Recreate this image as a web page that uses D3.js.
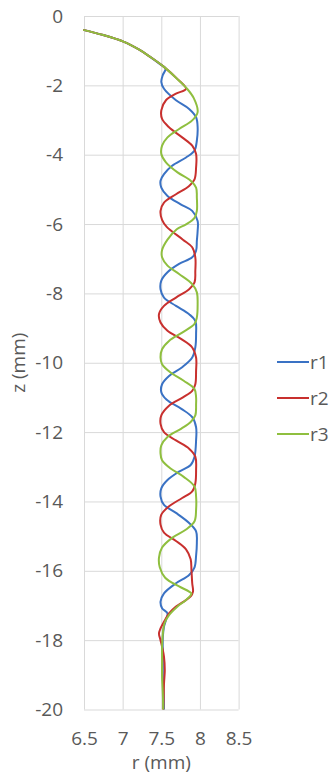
<!DOCTYPE html>
<html>
<head>
<meta charset="utf-8">
<script src="https://cdn.jsdelivr.net/npm/d3@7"></script>
<style>
  body { margin: 0; background: #fff; }
  svg text { font-family: "Open Sans", "Noto Sans", sans-serif; fill: #595959; }
  .grid line { stroke: #d9d9d9; stroke-width: 1; }
  .grid path { display: none; }
</style>
</head>
<body>
<svg id="chart" width="333" height="782"></svg>
<script>
// series names and colours
var seriesNames = ['r1', 'r2', 'r3'];
var seriesColors = ['#3a72c4', '#c8302e', '#8fbf3f'];

// tick values
var xTicks = [6.5, 7, 7.5, 8, 8.5];
var yTicks = [0, -2, -4, -6, -8, -10, -12, -14, -16, -18, -20];

// [r, z] points
var r1 = [[6.49,-0.40],[6.75,-0.55],[7.01,-0.74],[7.22,-0.98],[7.35,-1.17],[7.48,-1.38],[7.555,-1.52],
  [7.52,-1.70],[7.50,-1.90],[7.535,-2.10],[7.69,-2.43],[7.86,-2.68],[7.95,-2.92],[7.97,-3.21],[7.96,-3.59],
  [7.93,-3.88],[7.82,-4.08],[7.64,-4.32],[7.535,-4.56],[7.49,-4.75],[7.50,-4.95],[7.58,-5.19],[7.75,-5.43],
  [7.90,-5.62],[7.97,-5.91],[7.97,-6.20],[7.96,-6.48],[7.95,-6.77],[7.90,-6.96],[7.73,-7.15],[7.58,-7.39],
  [7.50,-7.63],[7.49,-7.88],[7.535,-8.12],[7.69,-8.36],[7.86,-8.60],[7.94,-8.79],[7.95,-9.17],[7.94,-9.56],
  [7.90,-9.85],[7.77,-10.13],[7.60,-10.38],[7.51,-10.62],[7.50,-10.85],[7.57,-11.07],[7.76,-11.33],
  [7.90,-11.57],[7.95,-11.86],[7.95,-12.24],[7.93,-12.71],[7.88,-12.95],[7.73,-13.14],[7.58,-13.38],
  [7.50,-13.62],[7.49,-13.86],[7.535,-14.10],[7.69,-14.33],[7.86,-14.62],[7.95,-14.86],[7.96,-15.19],
  [7.95,-15.57],[7.93,-15.90],[7.86,-16.12],[7.69,-16.36],[7.535,-16.65],[7.49,-16.89],[7.51,-17.08],
  [7.58,-17.23],[7.56,-17.42],[7.535,-17.61],[7.52,-17.90],[7.52,-18.58],[7.52,-19.06],[7.53,-19.55],
  [7.535,-20.0]];

var r2 = [[6.49,-0.40],[6.75,-0.55],[7.01,-0.74],[7.22,-0.98],[7.35,-1.17],[7.53,-1.46],[7.70,-1.80],
  [7.82,-2.10],[7.69,-2.24],[7.56,-2.43],[7.50,-2.72],[7.51,-2.97],[7.60,-3.21],[7.77,-3.50],[7.90,-3.74],
  [7.95,-3.98],[7.95,-4.37],[7.93,-4.71],[7.86,-4.90],[7.69,-5.14],[7.535,-5.38],[7.49,-5.62],[7.51,-5.88],
  [7.57,-6.08],[7.78,-6.45],[7.90,-6.67],[7.94,-6.96],[7.94,-7.35],[7.93,-7.68],[7.86,-7.88],[7.69,-8.12],
  [7.535,-8.36],[7.47,-8.60],[7.49,-8.84],[7.58,-9.08],[7.76,-9.32],[7.90,-9.56],[7.95,-9.85],[7.95,-10.23],
  [7.94,-10.62],[7.90,-10.81],[7.78,-11.00],[7.60,-11.24],[7.50,-11.52],[7.49,-11.76],[7.535,-12.00],
  [7.69,-12.24],[7.86,-12.48],[7.94,-12.71],[7.95,-13.10],[7.94,-13.48],[7.90,-13.71],[7.77,-13.90],
  [7.60,-14.14],[7.50,-14.38],[7.49,-14.67],[7.535,-14.90],[7.69,-15.14],[7.82,-15.38],[7.88,-15.67],
  [7.89,-15.97],[7.90,-16.36],[7.91,-16.60],[7.88,-16.74],[7.79,-16.89],[7.69,-17.03],[7.60,-17.23],
  [7.535,-17.47],[7.49,-17.66],[7.47,-17.81],[7.49,-18.00],[7.51,-18.19],[7.535,-18.48],[7.545,-18.87],
  [7.535,-19.25],[7.53,-19.74],[7.525,-20.0]];

var r3 = [[6.49,-0.40],[6.75,-0.55],[7.01,-0.74],[7.22,-0.98],[7.35,-1.17],[7.53,-1.46],[7.70,-1.80],
  [7.83,-2.09],[7.92,-2.37],[7.97,-2.77],[7.90,-3.01],[7.73,-3.26],[7.58,-3.50],[7.51,-3.74],[7.50,-3.98],
  [7.56,-4.22],[7.71,-4.51],[7.88,-4.75],[7.95,-4.95],[7.96,-5.24],[7.96,-5.62],[7.93,-5.82],[7.82,-6.01],
  [7.70,-6.15],[7.58,-6.45],[7.51,-6.75],[7.51,-6.96],[7.58,-7.20],[7.73,-7.44],[7.90,-7.73],[7.96,-7.97],
  [7.97,-8.31],[7.96,-8.69],[7.93,-8.88],[7.77,-9.13],[7.60,-9.37],[7.51,-9.61],[7.49,-9.85],[7.51,-10.04],
  [7.62,-10.28],[7.79,-10.52],[7.93,-10.76],[7.95,-11.00],[7.95,-11.19],[7.94,-11.52],[7.88,-11.71],
  [7.76,-11.90],[7.58,-12.14],[7.50,-12.38],[7.49,-12.62],[7.51,-12.81],[7.62,-13.05],[7.79,-13.29],
  [7.93,-13.57],[7.95,-13.86],[7.95,-14.24],[7.93,-14.57],[7.82,-14.81],[7.64,-15.05],[7.51,-15.33],
  [7.47,-15.62],[7.48,-15.90],[7.55,-16.20],[7.73,-16.45],[7.86,-16.60],[7.89,-16.66],[7.82,-16.84],
  [7.71,-17.03],[7.60,-17.28],[7.54,-17.52],[7.52,-17.81],[7.51,-18.19],[7.51,-18.58],[7.51,-19.06],
  [7.52,-19.55],[7.525,-20.0]];

var seriesData = [r1, r2, r3];

var svg = d3.select('#chart');
var plot = { left: 84, right: 238.6, top: 16, bottom: 709.5 };
var fontSize = '19px';

var x = d3.scaleLinear().domain([6.5, 8.5]).range([plot.left, plot.right]);
var y = d3.scaleLinear().domain([0, -20]).range([plot.top, plot.bottom]);

// x gridlines + labels
svg.append('g')
    .attr('class', 'grid')
    .attr('transform', 'translate(0,' + plot.bottom + ')')
    .call(d3.axisBottom(x).tickValues(xTicks)
        .tickSize(-(plot.bottom - plot.top)).tickPadding(22)
        .tickFormat(function (d) { return String(d); }))
    .selectAll('text')
    .style('font-size', fontSize);

// y gridlines + labels
svg.append('g')
    .attr('class', 'grid')
    .attr('transform', 'translate(' + plot.left + ',0)')
    .call(d3.axisLeft(y).tickValues(yTicks)
        .tickSize(-(plot.right - plot.left)).tickPadding(21)
        .tickFormat(function (d) { return String(d); }))
    .selectAll('text')
    .style('font-size', fontSize);

svg.selectAll('.grid text').attr('fill', '#595959');

// axis titles
svg.append('text')
    .attr('x', (plot.left + plot.right) / 2)
    .attr('y', 769)
    .attr('text-anchor', 'middle')
    .style('font-size', fontSize)
    .text('r (mm)');

svg.append('text')
    .attr('transform', 'translate(25,' + ((plot.top + plot.bottom) / 2) + ') rotate(-90)')
    .attr('text-anchor', 'middle')
    .style('font-size', fontSize)
    .text('z (mm)');

// curves
var line = d3.line()
    .x(function (d) { return x(d[0]); })
    .y(function (d) { return y(d[1]); })
    .curve(d3.curveCatmullRom.alpha(0.5));

svg.selectAll('path.series')
    .data(seriesData)
    .enter()
    .append('path')
    .attr('class', 'series')
    .attr('d', line)
    .attr('fill', 'none')
    .attr('stroke', function (d, i) { return seriesColors[i]; })
    .attr('stroke-width', 2)
    .attr('stroke-linejoin', 'round');

// legend
var legend = svg.selectAll('.legend')
    .data(seriesNames)
    .enter()
    .append('g')
    .attr('class', 'legend')
    .attr('transform', function (d, i) { return 'translate(277,' + (362 + i * 36) + ')'; });
legend.append('line')
    .attr('x1', 0).attr('x2', 32)
    .attr('stroke', function (d, i) { return seriesColors[i]; })
    .attr('stroke-width', 2);
legend.append('text')
    .attr('x', 33)
    .attr('dy', '0.35em')
    .style('font-size', fontSize)
    .text(function (d) { return d; });
</script>
</body>
</html>
